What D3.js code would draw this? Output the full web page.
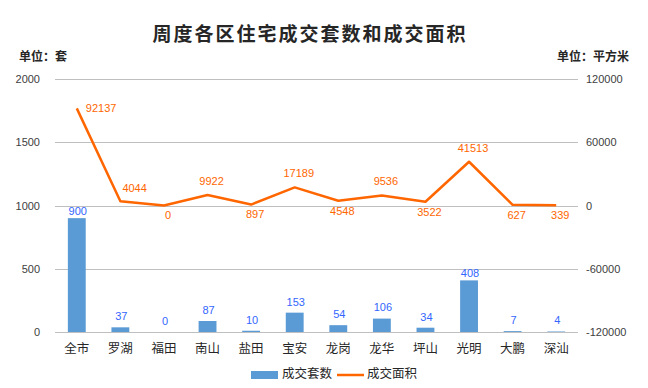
<!DOCTYPE html>
<html>
<head>
<meta charset="utf-8">
<script src="https://cdn.jsdelivr.net/npm/d3@7"></script>
<style>
  body { margin: 0; background: #fff; }
  svg { display: block; font-family: "Liberation Sans", Arial, sans-serif; }
  .cjk { font-family: "Noto Sans CJK SC", sans-serif; }
</style>
</head>
<body>
<div id="chart"></div>
<script>
// data
var districts = ["全市", "罗湖", "福田", "南山", "盐田", "宝安", "龙岗", "龙华", "坪山", "光明", "大鹏", "深汕"];
var units = [900, 37, 0, 87, 10, 153, 54, 106, 34, 408, 7, 4];
var area = [92137, 4044, 0, 9922, 897, 17189, 4548, 9536, 3522, 41513, 627, 339];
var leftTicks = [0, 500, 1000, 1500, 2000];
var rightTicks = [-120000, -60000, 0, 60000, 120000];
// where each area label sits relative to its point
var areaLabelPos = ["right", "upright", "below", "above", "below", "above", "below", "above", "below", "above", "below", "below"];

var W = 648, H = 388;
var plot = {left: 55, right: 578, top: 79, bottom: 332};

var svg = d3.select("#chart").append("svg")
    .attr("width", W)
    .attr("height", H);

var x = d3.scaleBand()
    .domain(districts)
    .range([plot.left, plot.right])
    .paddingInner(0.59)
    .paddingOuter(0.295);

var yL = d3.scaleLinear().domain([0, 2000]).range([plot.bottom, plot.top]);
var yR = d3.scaleLinear().domain([-120000, 120000]).range([plot.bottom, plot.top]);

function cx(d) { return x(d) + x.bandwidth() / 2; }

// title + units
svg.append("text")
    .attr("class", "cjk")
    .attr("x", 310).attr("y", 36)
    .attr("text-anchor", "middle")
    .attr("dominant-baseline", "middle")
    .style("font-size", "19px").style("font-weight", "bold")
    .style("letter-spacing", "2px")
    .style("fill", "#262626")
    .text("周度各区住宅成交套数和成交面积");

svg.append("text").attr("class", "cjk")
    .attr("x", 19).attr("y", 58)
    .attr("dominant-baseline", "middle")
    .style("font-size", "12px").style("font-weight", "bold").style("fill", "#262626")
    .text("单位：套");

svg.append("text").attr("class", "cjk")
    .attr("x", 629).attr("y", 58)
    .attr("text-anchor", "end")
    .attr("dominant-baseline", "middle")
    .style("font-size", "12px").style("font-weight", "bold").style("fill", "#262626")
    .text("单位：平方米");

// gridlines
svg.append("g").selectAll("line")
    .data(leftTicks)
    .join("line")
    .attr("x1", plot.left).attr("x2", plot.right)
    .attr("y1", function(d) { return Math.round(yL(d)) + 0.5; })
    .attr("y2", function(d) { return Math.round(yL(d)) + 0.5; })
    .attr("stroke", "#bfbfbf").attr("stroke-width", 1);

// left axis
var axL = d3.axisLeft(yL).tickValues(leftTicks).tickSize(0).tickPadding(0)
    .tickFormat(function(d) { return String(d); });
svg.append("g")
    .attr("transform", "translate(40,0)")
    .call(axL)
    .call(function(g) {
      g.select(".domain").remove();
      g.selectAll("text").style("font-size", "11px").style("fill", "#404040")
        .attr("font-family", "Liberation Sans, Arial, sans-serif");
    });

// right axis
var axR = d3.axisRight(yR).tickValues(rightTicks).tickSize(0).tickPadding(0)
    .tickFormat(function(d) { return String(d); });
svg.append("g")
    .attr("transform", "translate(586,0)")
    .call(axR)
    .call(function(g) {
      g.select(".domain").remove();
      g.selectAll("text").style("font-size", "11px").style("fill", "#404040")
        .attr("font-family", "Liberation Sans, Arial, sans-serif");
    });

// bars
svg.append("g").selectAll("rect")
    .data(units)
    .join("rect")
    .attr("x", function(d, i) { return x(districts[i]); })
    .attr("width", x.bandwidth())
    .attr("y", function(d) { return yL(d); })
    .attr("height", function(d) { return yL(0) - yL(d); })
    .attr("fill", "#5b9bd5");

// bar labels
svg.append("g").selectAll("text")
    .data(units)
    .join("text")
    .attr("x", function(d, i) { return cx(districts[i]) + 1; })
    .attr("y", function(d) { return yL(d) - (d > 300 ? 6 : 10); })
    .attr("text-anchor", "middle")
    .attr("dominant-baseline", "middle")
    .style("font-size", "11px")
    .style("fill", "#3366ff")
    .text(function(d) { return d; });

// area line
var line = d3.line()
    .x(function(d, i) { return cx(districts[i]); })
    .y(function(d) { return yR(d); });

svg.append("path")
    .datum(area)
    .attr("d", line)
    .attr("fill", "none")
    .attr("stroke", "#ff6600")
    .attr("stroke-width", 2.5)
    .attr("stroke-linejoin", "round");

// area labels
svg.append("g").selectAll("text")
    .data(area)
    .join("text")
    .attr("x", function(d, i) {
      var p = areaLabelPos[i], px = cx(districts[i]);
      if (p == "right") return px + 9;
      if (p == "upright") return px + 2;
      return px + 4;
    })
    .attr("y", function(d, i) {
      var p = areaLabelPos[i], py = yR(d);
      if (p == "right") return py + 1;
      if (p == "upright") return py - 12;
      if (p == "above") return py - 13;
      return py + 11;
    })
    .attr("text-anchor", function(d, i) {
      var p = areaLabelPos[i];
      return (p == "right" || p == "upright") ? "start" : "middle";
    })
    .attr("dominant-baseline", "middle")
    .style("font-size", "11px")
    .style("fill", "#ff6600")
    .text(function(d) { return d; });

// category labels
svg.append("g").selectAll("text")
    .data(districts)
    .join("text")
    .attr("class", "cjk")
    .attr("x", function(d) { return cx(d); })
    .attr("y", 350)
    .attr("text-anchor", "middle")
    .attr("dominant-baseline", "middle")
    .style("font-size", "12.5px")
    .style("fill", "#262626")
    .text(function(d) { return d; });

// legend
var legend = svg.append("g");
legend.append("rect")
    .attr("x", 251).attr("y", 371).attr("width", 27).attr("height", 8)
    .attr("fill", "#5b9bd5");
legend.append("text").attr("class", "cjk")
    .attr("x", 282).attr("y", 375)
    .attr("dominant-baseline", "middle")
    .style("font-size", "12.5px").style("fill", "#262626")
    .text("成交套数");
legend.append("line")
    .attr("x1", 337).attr("x2", 364).attr("y1", 375).attr("y2", 375)
    .attr("stroke", "#ff6600").attr("stroke-width", 2.5);
legend.append("text").attr("class", "cjk")
    .attr("x", 367).attr("y", 375)
    .attr("dominant-baseline", "middle")
    .style("font-size", "12.5px").style("fill", "#262626")
    .text("成交面积");
</script>
</body>
</html>
